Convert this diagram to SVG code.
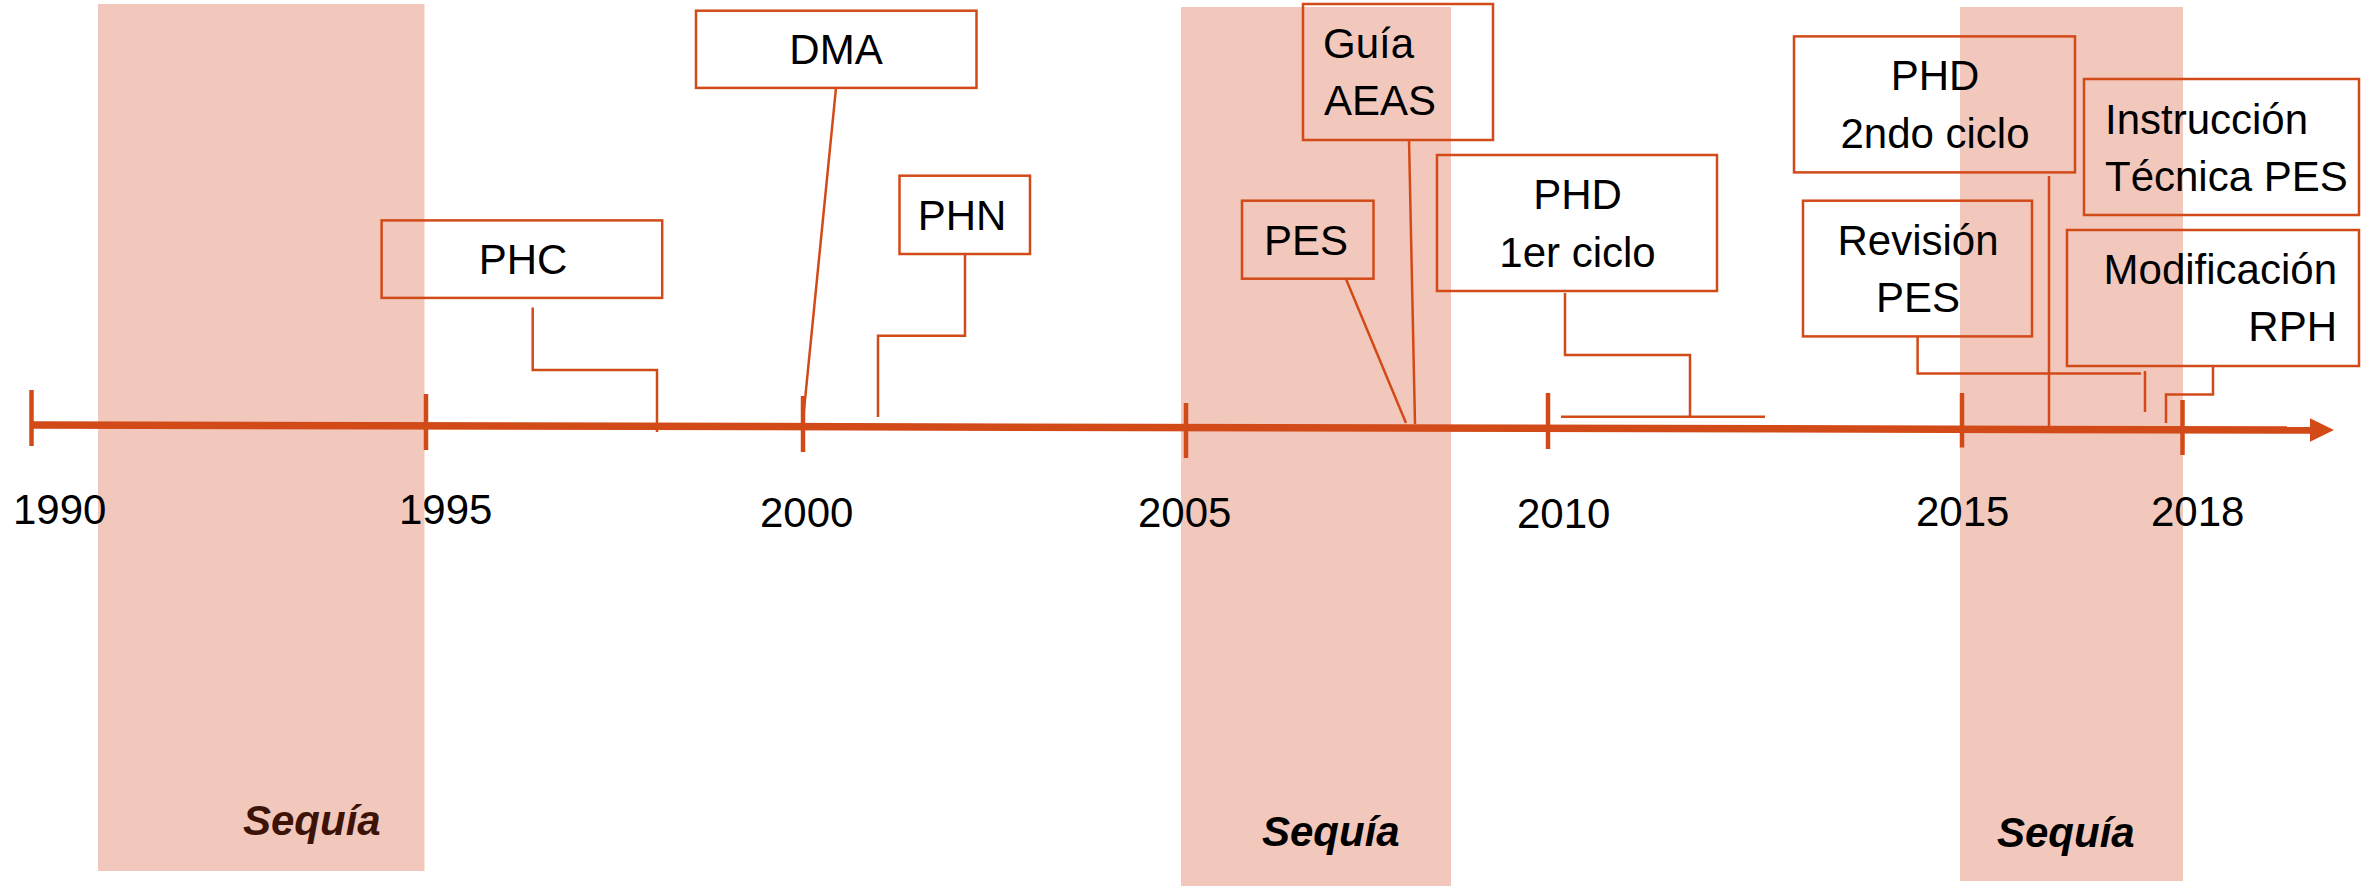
<svg xmlns="http://www.w3.org/2000/svg" width="2377" height="886" viewBox="0 0 2377 886">
<style>
.bg{fill:#FFFFFF}
.drought{fill:#F2C8BC}
.box{fill:none;stroke:#D24A18;stroke-width:2.5}
.lbl{font-family:"Liberation Sans",Arial,sans-serif;font-size:42px;fill:#000000}
.mid{text-anchor:middle}
.end{text-anchor:end}
.seq{font-family:"Liberation Sans",Arial,sans-serif;font-size:42px;font-weight:bold;font-style:italic}
.conn{fill:none;stroke:#D24A18;stroke-width:2.5}
.tick{stroke:#D24A18;stroke-width:4.5}
.axis{stroke:#D24A18;stroke-width:7.5}
</style>
<rect class="bg" x="0" y="0" width="2377" height="886"/>
<g id="droughts">
<rect class="drought" x="98" y="4" width="326.5" height="867"/>
<rect class="drought" x="1181" y="7" width="270" height="879"/>
<rect class="drought" x="1960" y="7" width="223" height="874"/>
<text class="seq" x="243" y="835" fill="#3D1308">Sequía</text>
<text class="seq" x="1262" y="846" fill="#000000">Sequía</text>
<text class="seq" x="1997" y="847" fill="#000000">Sequía</text>
</g>
<g id="timeline">
<line class="axis" x1="31" y1="425" x2="2312" y2="430"/>
<polygon points="2310,418.3 2334,430 2310,441.7" fill="#D24A18"/>
<line class="tick" x1="31.5" y1="390" x2="31.5" y2="446"/>
<line class="tick" x1="426" y1="394" x2="426" y2="450"/>
<line class="tick" x1="803" y1="396" x2="803" y2="452"/>
<line class="tick" x1="1186" y1="403" x2="1186" y2="458"/>
<line class="tick" x1="1548" y1="393" x2="1548" y2="449"/>
<line class="tick" x1="1962" y1="393" x2="1962" y2="447.5"/>
<line class="tick" x1="2182.5" y1="400" x2="2182.5" y2="455"/>
<text class="lbl" x="13" y="524">1990</text>
<text class="lbl" x="399" y="524">1995</text>
<text class="lbl" x="760" y="527">2000</text>
<text class="lbl" x="1138" y="527">2005</text>
<text class="lbl" x="1517" y="528">2010</text>
<text class="lbl" x="1916" y="526">2015</text>
<text class="lbl" x="2151" y="526">2018</text>
</g>
<g id="connectors">
<path class="conn" d="M532.7 307.5 V370 H657 V432"/>
<path class="conn" d="M836 88 L803 420"/>
<path class="conn" d="M965 254 V335.7 H878 V417"/>
<path class="conn" d="M1346 279 L1406 423"/>
<path class="conn" d="M1409 139 L1415 424"/>
<path class="conn" d="M1565 293 V355 H1690 V416.7"/>
<path class="conn" d="M1561 416.7 H1765"/>
<path class="conn" d="M2049 176 V426"/>
<path class="conn" d="M1917.6 336.4 V373.5 H2141"/>
<path class="conn" d="M2145 371 V412"/>
<path class="conn" d="M2213 366 V394.5 H2166 V423"/>
</g>
<g id="node-phc">
<rect class="box" x="381.6" y="220.4" width="280.6" height="77.5"/>
<text class="lbl mid" x="523" y="274">PHC</text>
</g>
<g id="node-dma">
<rect class="box" x="696" y="10.7" width="280.5" height="77.2"/>
<text class="lbl mid" x="836" y="64">DMA</text>
</g>
<g id="node-phn">
<rect class="box" x="899.5" y="175.7" width="130.5" height="78.3"/>
<text class="lbl mid" x="962" y="230">PHN</text>
</g>
<g id="node-pes">
<rect class="box" x="1242" y="200.7" width="131.5" height="78"/>
<text class="lbl" x="1264" y="255">PES</text>
</g>
<g id="node-guia">
<rect class="box" x="1303" y="4" width="190" height="136"/>
<text class="lbl" x="1323" y="58">Guía</text>
<text class="lbl" x="1324" y="115">AEAS</text>
</g>
<g id="node-phd1">
<rect class="box" x="1437" y="155" width="280" height="136"/>
<text class="lbl mid" x="1577.5" y="209">PHD</text>
<text class="lbl mid" x="1577.5" y="267">1er ciclo</text>
</g>
<g id="node-phd2">
<rect class="box" x="1794" y="36.4" width="281" height="136"/>
<text class="lbl mid" x="1935" y="90">PHD</text>
<text class="lbl mid" x="1935" y="148">2ndo ciclo</text>
</g>
<g id="node-revision">
<rect class="box" x="1803" y="200.7" width="229" height="135.7"/>
<text class="lbl mid" x="1918" y="255">Revisión</text>
<text class="lbl mid" x="1918" y="312">PES</text>
</g>
<g id="node-instruccion">
<rect class="box" x="2084" y="79" width="275" height="136"/>
<text class="lbl" x="2105" y="134">Instrucción</text>
<text class="lbl" x="2105" y="191">Técnica PES</text>
</g>
<g id="node-modificacion">
<rect class="box" x="2067" y="230" width="292" height="136"/>
<text class="lbl end" x="2337" y="284">Modificación</text>
<text class="lbl end" x="2337" y="341">RPH</text>
</g>
</svg>
